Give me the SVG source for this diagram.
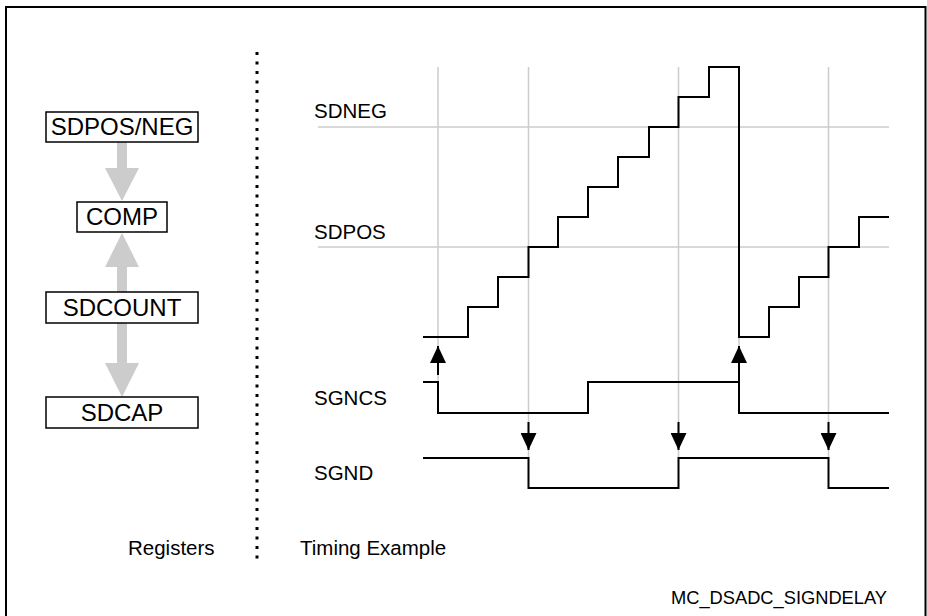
<svg xmlns="http://www.w3.org/2000/svg" width="927" height="616" viewBox="0 0 927 616">
<style>
text{font-family:"Liberation Sans",Arial,sans-serif;fill:#000}
.box{fill:#fff;stroke:#000;stroke-width:1.5}
.bt{font-size:24px;text-anchor:middle}
.lbl{font-size:20.5px}
.grid{stroke:#cccccc;stroke-width:1.5;fill:none}
.sig{stroke:#000;stroke-width:2;fill:none}
.fat{fill:#cccccc}
.ar{stroke:#000;stroke-width:2;fill:none}
</style>
<defs>
<marker id="ah" viewBox="0 0 17 16" refX="17" refY="8" markerWidth="17" markerHeight="16" markerUnits="userSpaceOnUse" orient="auto">
<path d="M0,0 L17,8 L0,16 Z" fill="#000"/>
</marker>
</defs>
<rect x="6" y="7" width="919.5" height="612" fill="#fff" stroke="#000" stroke-width="2"/>
<line x1="257" y1="52" x2="257" y2="560" stroke="#000" stroke-width="3" stroke-dasharray="3 6.5"/>
<g id="connectors">
<polygon class="fat" points="117,142 127,142 127,168 139,168 122,201 105,168 117,168"/>
<polygon class="fat" points="117,292 127,292 127,267 139,267 122,233 105,267 117,267"/>
<polygon class="fat" points="117,323 127,323 127,363 139,363 122,397 105,363 117,363"/>
</g>
<g id="n-sdposneg"><rect class="box" x="46" y="112" width="152" height="30"/><text class="bt" x="122" y="135">SDPOS/NEG</text></g>
<g id="n-comp"><rect class="box" x="77" y="202" width="90" height="30"/><text class="bt" x="122" y="225">COMP</text></g>
<g id="n-sdcount"><rect class="box" x="46" y="292" width="152" height="31"/><text class="bt" x="122" y="315.5">SDCOUNT</text></g>
<g id="n-sdcap"><rect class="box" x="46" y="397" width="152" height="31"/><text class="bt" x="122" y="420.5">SDCAP</text></g>
<text class="lbl" x="128" y="555">Registers</text>
<text class="lbl" x="300" y="555">Timing Example</text>
<g id="timing">
<line class="grid" x1="318" y1="127" x2="889" y2="127"/>
<line class="grid" x1="318" y1="247" x2="889" y2="247"/>
<line class="grid" x1="438" y1="67" x2="438" y2="382"/>
<line class="grid" x1="528.5" y1="67" x2="528.5" y2="458"/>
<line class="grid" x1="678.5" y1="67" x2="678.5" y2="458"/>
<line class="grid" x1="828.5" y1="67" x2="828.5" y2="458"/>
<line class="grid" x1="739" y1="337" x2="739" y2="382"/>
<text class="lbl" x="314" y="118">SDNEG</text>
<text class="lbl" x="314" y="239">SDPOS</text>
<text class="lbl" x="314" y="405">SGNCS</text>
<text class="lbl" x="314" y="480">SGND</text>
<path class="sig" d="M423,337 H468 V307 H498 V277 H528.5 V247 H558 V217 H588 V187 H618 V157 H649 V127 H678.5 V97 H709 V67 H739 V337 H769 V307 H799 V277 H828.5 V247 H859 V217 H889"/>
<path class="sig" d="M423,382 H438 V413 H588 V382 H739 V413 H889"/>
<path class="sig" d="M423,458 H528.5 V488 H678.5 V458 H828.5 V488 H889"/>
<line class="ar" x1="438" y1="375" x2="438" y2="346" marker-end="url(#ah)"/>
<line class="ar" x1="739" y1="382" x2="739" y2="346" marker-end="url(#ah)"/>
<line class="ar" x1="528.5" y1="422" x2="528.5" y2="450" marker-end="url(#ah)"/>
<line class="ar" x1="678.5" y1="422" x2="678.5" y2="450" marker-end="url(#ah)"/>
<line class="ar" x1="828.5" y1="422" x2="828.5" y2="450" marker-end="url(#ah)"/>
</g>
<text x="887" y="604" style="font-size:18.3px;text-anchor:end">MC_DSADC_SIGNDELAY</text>
</svg>
